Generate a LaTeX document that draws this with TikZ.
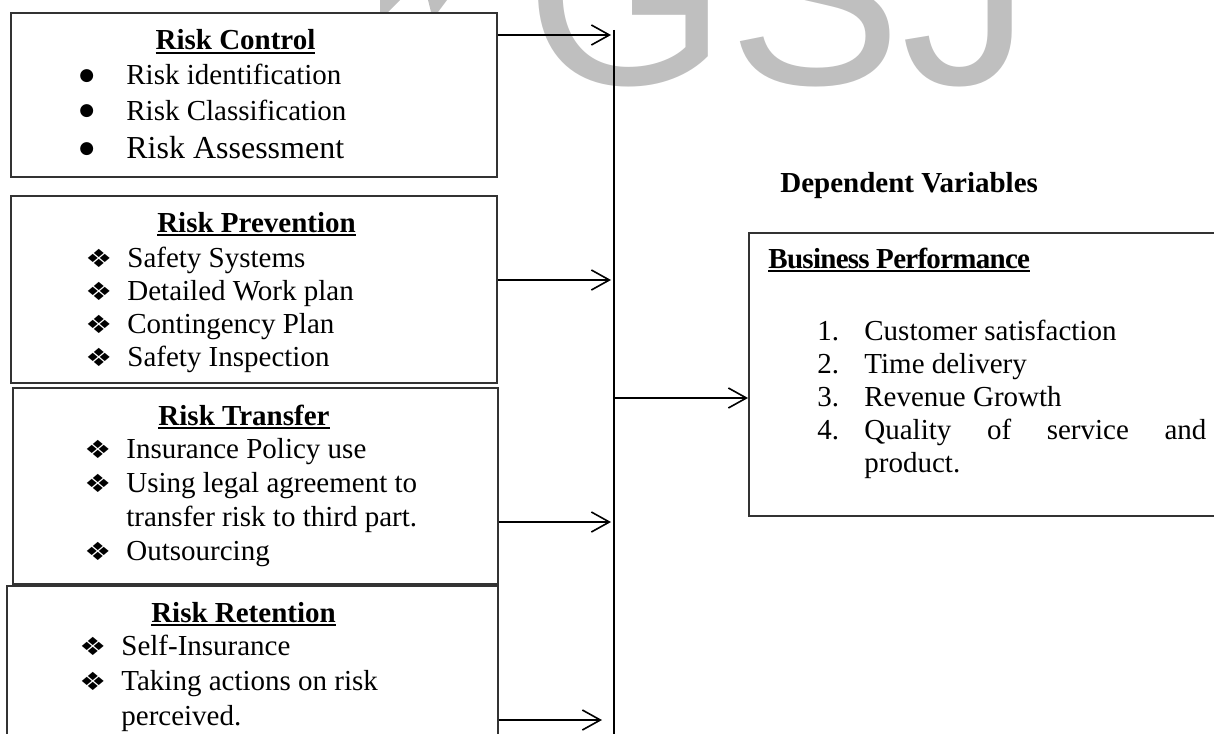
\documentclass[tikz,border=0pt]{standalone}
\usepackage{fontspec}
\setmainfont{Liberation Serif}
\newfontfamily\dingfont{DejaVu Sans}
\newfontfamily\wmfont{Liberation Sans}
\usetikzlibrary{arrows.meta}

% list markers with a fixed hanging indent
\newcommand{\itembul}{\makebox[23.5pt][l]{\raisebox{2pt}{\dingfont\fontsize{8.5}{9}\selectfont ●}}}
\newcommand{\itemdia}{\makebox[21pt][l]{\raisebox{-0.3pt}{\scalebox{1.2}[1]{\dingfont\fontsize{12.5}{13}\selectfont ❖}}}}
\newcommand{\itemnum}[1]{\makebox[23.5pt][l]{#1}}
% heading underline, a bit heavier than \underline
\newcommand{\headul}[1]{\setbox0=\hbox{#1}\rlap{\rule[-1.9pt]{\wd0}{0.9pt}}\box0}

\begin{document}
\begin{tikzpicture}[x=0.5pt, y=-0.5pt,
  box/.style={draw=black!80, line width=0.8pt, fill=white, anchor=north west,
              inner sep=0pt},
  head/.style={font=\fontsize{14.5}{17}\bfseries, anchor=base, inner sep=0pt},
  items/.style={anchor=base west, inner sep=0pt},
  wire/.style={line width=0.8pt},
  arr/.style={wire, -{Straight Barb[length=9pt, width=10pt]}},
  wmark/.style={font=\wmfont\fontsize{130}{130}\selectfont, text=black!25,
                anchor=base west, inner sep=0pt},
]
\useasboundingbox (0,0) rectangle (1214,733);
\clip (0,0) rectangle (1214,733);

%% ---- watermark (behind everything) ----
\node[wmark] (gsj) at (525.5,85) {GSJ};
\fill[black!25] (380,0) -- (400,0) -- (388,12) -- (380,12) -- cycle;
\fill[black!25] (428,0) -- (447,0) -- (438,12) -- (431,12) -- cycle;

%% ---- independent variables (left column) ----

\node[box, minimum width=243pt, minimum height=82pt] (control) at (10,12) {};
\node[head] (controlhead) at (235.5,50) {\headul{Risk Control}};
\node[items, font=\fontsize{14.5}{17.5}\selectfont] (controllist) at (79,85)
  {\begin{tabular}[t]{@{}l@{}l@{}}
   \itembul & Risk identification\\
   \itembul & Risk Classification\\[1.5pt]
   \itembul & {\fontsize{16}{19}\selectfont Risk Assessment}
   \end{tabular}};

\node[box, minimum width=243pt, minimum height=93.5pt] (prevent) at (10,195) {};
\node[head] (preventhead) at (256.5,232) {\headul{Risk Prevention}};
\node[items, font=\fontsize{14.5}{16.5}\selectfont] (preventlist) at (85,267)
  {\begin{tabular}[t]{@{}l@{}l@{}}
   \itemdia & Safety Systems\\
   \itemdia & Detailed Work plan\\
   \itemdia & Contingency Plan\\
   \itemdia & Safety Inspection
   \end{tabular}};

\node[box, minimum width=242.5pt, minimum height=98pt] (transfer) at (12,387) {};
\node[head] (transferhead) at (244,425) {\headul{Risk Transfer}};
\node[items, font=\fontsize{14.5}{17}\selectfont] (transferlist) at (84,458)
  {\begin{tabular}[t]{@{}l@{}l@{}}
   \itemdia & Insurance Policy use\\
   \itemdia & Using legal agreement to\\
            & transfer risk to third part.\\
   \itemdia & Outsourcing
   \end{tabular}};

\node[box, minimum width=245.5pt, minimum height=82pt] (retain) at (6,585) {};
\node[head] (retainhead) at (243.5,622) {\headul{Risk Retention}};
\node[items, font=\fontsize{14.5}{17.5}\selectfont] (retainlist) at (79,655)
  {\begin{tabular}[t]{@{}l@{}l@{}}
   \itemdia & Self-Insurance\\
   \itemdia & Taking actions on risk\\
            & perceived.
   \end{tabular}};

%% ---- dependent variable (right) ----

\node[head, anchor=base west] (deplabel) at (780,192) {Dependent Variables};

\node[box, minimum width=245pt, minimum height=141.5pt] (perf) at (748,232) {};
\node[head, anchor=base west] (perfhead) at (768,268)
  {\addfontfeatures{LetterSpace=-2.5}\headul{Business Performance}};
\node[items, font=\fontsize{14.5}{16.5}\selectfont] (perflist) at (817,340)
  {\begin{tabular}[t]{@{}l@{}l@{}}
   \itemnum{1.} & Customer satisfaction\\
   \itemnum{2.} & Time delivery\\
   \itemnum{3.} & Revenue Growth\\
   \itemnum{4.} & \makebox[171pt][s]{Quality of service and}\\
                & product.
   \end{tabular}};

%% ---- collecting line and arrows ----

\coordinate (bustop) at (614,30);
\coordinate (busbot) at (614,740);
\draw[wire] (bustop) -- (busbot);

\coordinate (in1) at (611,35);
\coordinate (in2) at (611,280);
\coordinate (in3) at (611,522);
\coordinate (in4) at (602,720);
\coordinate (out) at (614,398);

\draw[arr] (control.east |- in1) -- (in1);
\draw[arr] (prevent.east |- in2) -- (in2);
\draw[arr] (transfer.east |- in3) -- (in3);
\draw[arr] (retain.east |- in4) -- (in4);
\draw[arr] (out) -- (perf.west |- out);

\end{tikzpicture}
\end{document}
